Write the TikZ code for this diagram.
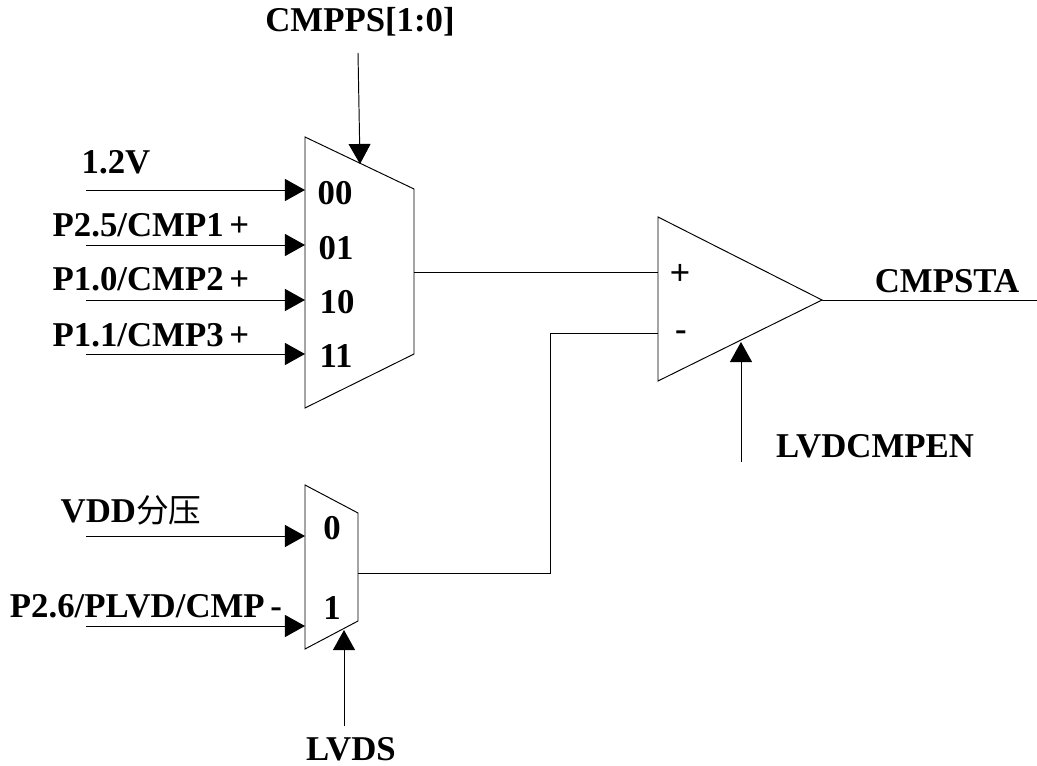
\documentclass[tikz,border=0pt]{standalone}
\usepackage{fontspec}
\setmainfont{Liberation Serif}
\setsansfont{Liberation Sans}
\newfontfamily\cjk{Noto Sans CJK SC}
\usetikzlibrary{arrows.meta}
\begin{document}
\begin{tikzpicture}[
    x=0.02cm, y=-0.02cm,
    every node/.style={font=\fontsize{19.8pt}{22pt}\selectfont\bfseries, inner sep=0pt},
    blk/.style={draw, line width=0.55pt},
    e/.style={-{Triangle[length=11.4pt, width=12.5pt]}, line width=0.55pt},
    w/.style={line width=0.55pt},
    sgn/.style={font=\fontsize{19.8pt}{22pt}\selectfont\sffamily},
  ]
  \useasboundingbox (0,0) rectangle (1037,766);
  % blocks
  \draw[blk] (305,137) -- (414,189) -- (414,354) -- (305,408) -- cycle;
  \draw[blk] (305,485) -- (358,513) -- (358,621) -- (305,649) -- cycle;
  \draw[blk] (658,217) -- (822,300) -- (658,381) -- cycle;
  % inputs of the upper selector
  \coordinate (a0) at (86,190);
  \coordinate (a1) at (86,245);
  \coordinate (a2) at (86,300);
  \coordinate (a3) at (86,354);
  \node (s0) at (335,193) {00};
  \node (s1) at (336,248) {01};
  \node (s2) at (337,302) {10};
  \node (s3) at (336,356) {11};
  \coordinate (p0) at (305,190);
  \coordinate (p1) at (305,245);
  \coordinate (p2) at (305,300);
  \coordinate (p3) at (305,354);
  \draw[e] (a0) -- (p0);
  \draw[e] (a1) -- (p1);
  \draw[e] (a2) -- (p2);
  \draw[e] (a3) -- (p3);
  \node (l0) at (116,162) {1.2V};
  \node (l1) at (151,225) {P2.5/CMP1\,+};
  \node (l2) at (151,279) {P1.0/CMP2\,+};
  \node (l3) at (151,335) {P1.1/CMP3\,+};
  % select lines
  \node (cmpps) at (360,22) {CMPPS[1:0]};
  \coordinate (c0) at (358,53);
  \coordinate (c1) at (360,164);
  \draw[e] (c0) -- (c1);
  % lower selector
  \coordinate (b0) at (86,536);
  \coordinate (b1) at (86,626);
  \coordinate (q0) at (305,536);
  \coordinate (q1) at (305,626);
  \draw[e] (b0) -- (q0);
  \draw[e] (b1) -- (q1);
  \node (t0) at (332,528) {0};
  \node (t1) at (332,608) {1};
  \node (l4) at (131,510) {VDD{\cjk\mdseries\fontsize{18.6pt}{20pt}\selectfont 分压}};
  \node (l5) at (146,606) {P2.6/PLVD/CMP\,-};
  \coordinate (d0) at (344,726);
  \coordinate (d1) at (344,630);
  \draw[e] (d0) -- (d1);
  \node (lvds) at (351,749) {LVDS};
  % comparator
  \coordinate (m0) at (414,272);
  \coordinate (m1) at (658,272);
  \draw[w] (m0) -- (m1);
  \coordinate (n0) at (358,573);
  \coordinate (n1) at (550,573);
  \coordinate (n2) at (550,333);
  \coordinate (n3) at (658,333);
  \draw[w] (n0) -- (n1) -- (n2) -- (n3);
  \node[sgn] (plus) at (680,274) {+};
  \node (minus) at (681,336) {-};
  \coordinate (o0) at (822,300);
  \coordinate (o1) at (1037,300);
  \draw[w] (o0) -- (o1);
  \node (cmpsta) at (947,281) {CMPSTA};
  \coordinate (en0) at (741,462);
  \coordinate (en1) at (741,342);
  \draw[e] (en0) -- (en1);
  \node (lvdcmpen) at (875,446) {LVDCMPEN};
\end{tikzpicture}
\end{document}
